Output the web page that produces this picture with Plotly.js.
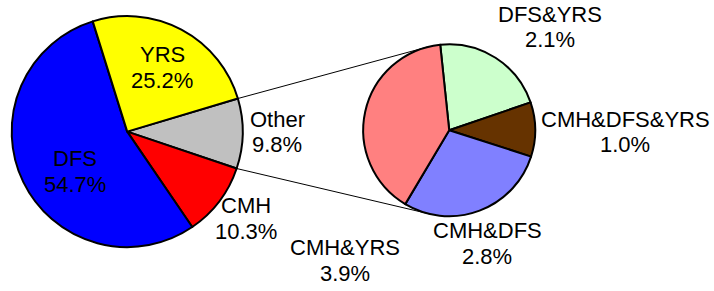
<!DOCTYPE html>
<html><head><meta charset="utf-8">
<script src="https://cdn.plot.ly/plotly-3.0.1.min.js"></script>
<style>html,body{margin:0;padding:0;background:#fff}</style>
</head><body><div id="chart" style="width:714px;height:291px"></div>
<script>
// ---- data ----
const mainLabels = ["Other", "CMH", "DFS", "YRS"];
const mainValues = [9.8, 10.3, 54.7, 25.2];
const subLabels = ["DFS&YRS", "CMH&DFS&YRS", "CMH&DFS", "CMH&YRS"];
const subValues = [2.1, 1.0, 2.8, 3.9];

// ---- styles / layout ----
const mainColors = ["#C0C0C0", "#FF0000", "#0000FF", "#FFFF00"];
const subColors = ["#CCFFCC", "#663300", "#8080FF", "#FF8080"];
const W = 714, H = 291;
const Lg = {cx: 127.2, cy: 131.6, r: 115.5};
const Rg = {cx: 449.2, cy: 130.2, r: 86};
const mainTotal = mainValues.reduce((a, b) => a + b, 0);
const otherSpan = 360 * mainValues[0] / mainTotal;
Lg.rot = 91 - otherSpan / 2;
Rg.rot = -6;
// label block centres (pixels) for main and sub labels, in data order
const mainLabelPos = [[277, 132.8], [246, 219.4], [74.5, 172.7], [162, 68.5]];
const subLabelPos = [[550, 28.2], [625, 133], [487, 244.7], [344.5, 261.3]];
const LINE_GAP = 25.5;
const FONT = {family: "Liberation Sans, Arial, sans-serif", size: 22, color: "#000"};

function dom(g) {
  return {x: [(g.cx - g.r) / W, (g.cx + g.r) / W],
          y: [1 - (g.cy + g.r) / H, 1 - (g.cy - g.r) / H]};
}
const px = x => x / W, py = y => 1 - y / H;

const traces = [
  {type: "pie", labels: mainLabels, values: mainValues, sort: false,
   direction: "clockwise", rotation: Lg.rot, domain: dom(Lg),
   marker: {colors: mainColors, line: {color: "#000", width: 2}},
   textinfo: "none", hoverinfo: "label+value", showlegend: false},
  {type: "pie", labels: subLabels, values: subValues, sort: false,
   direction: "clockwise", rotation: Rg.rot, domain: dom(Rg),
   marker: {colors: subColors, line: {color: "#000", width: 2}},
   textinfo: "none", hoverinfo: "label+value", showlegend: false}
];

// connector lines: from edges of the "Other" slice, tangent to the secondary pie
function ptOn(g, a) {
  const t = a * Math.PI / 180;
  return [g.cx + g.r * Math.sin(t), g.cy - g.r * Math.cos(t)];
}
function tangent(P, g, upper) {
  const vx = P[0] - g.cx, vy = P[1] - g.cy;
  const d = Math.hypot(vx, vy);
  const phi = Math.atan2(vy, vx), al = Math.acos(g.r / d);
  const c = [phi + al, phi - al].map(t => [g.cx + g.r * Math.cos(t), g.cy + g.r * Math.sin(t)]);
  c.sort((a, b) => a[1] - b[1]);
  return upper ? c[0] : c[1];
}
const pTop = ptOn(Lg, Lg.rot), pBot = ptOn(Lg, Lg.rot + otherSpan);
const tTop = tangent(pTop, Rg, true), tBot = tangent(pBot, Rg, false);
const shapes = [[pTop, tTop], [pBot, tBot]].map(([a, b]) => ({
  type: "line", xref: "paper", yref: "paper",
  x0: px(a[0]), y0: py(a[1]), x1: px(b[0]), y1: py(b[1]),
  line: {color: "#000", width: 1}, layer: "below"}));

const annotations = [];
function addLabels(labels, values, pos) {
  labels.forEach((lab, i) => {
    const [x, y] = pos[i];
    [lab, values[i].toFixed(1) + "%"].forEach((t, k) => {
      annotations.push({text: t, xref: "paper", yref: "paper",
        x: px(x), y: py(y + (k - 0.5) * LINE_GAP - 1),
        xanchor: "center", yanchor: "middle", showarrow: false, font: FONT});
    });
  });
}
addLabels(mainLabels, mainValues, mainLabelPos);
addLabels(subLabels, subValues, subLabelPos);

Plotly.newPlot("chart", traces, {
  width: W, height: H, autosize: false,
  margin: {l: 0, r: 0, t: 0, b: 0},
  paper_bgcolor: "#fff", plot_bgcolor: "#fff",
  shapes: shapes, annotations: annotations, showlegend: false
}, {staticPlot: true});
</script></body></html>
